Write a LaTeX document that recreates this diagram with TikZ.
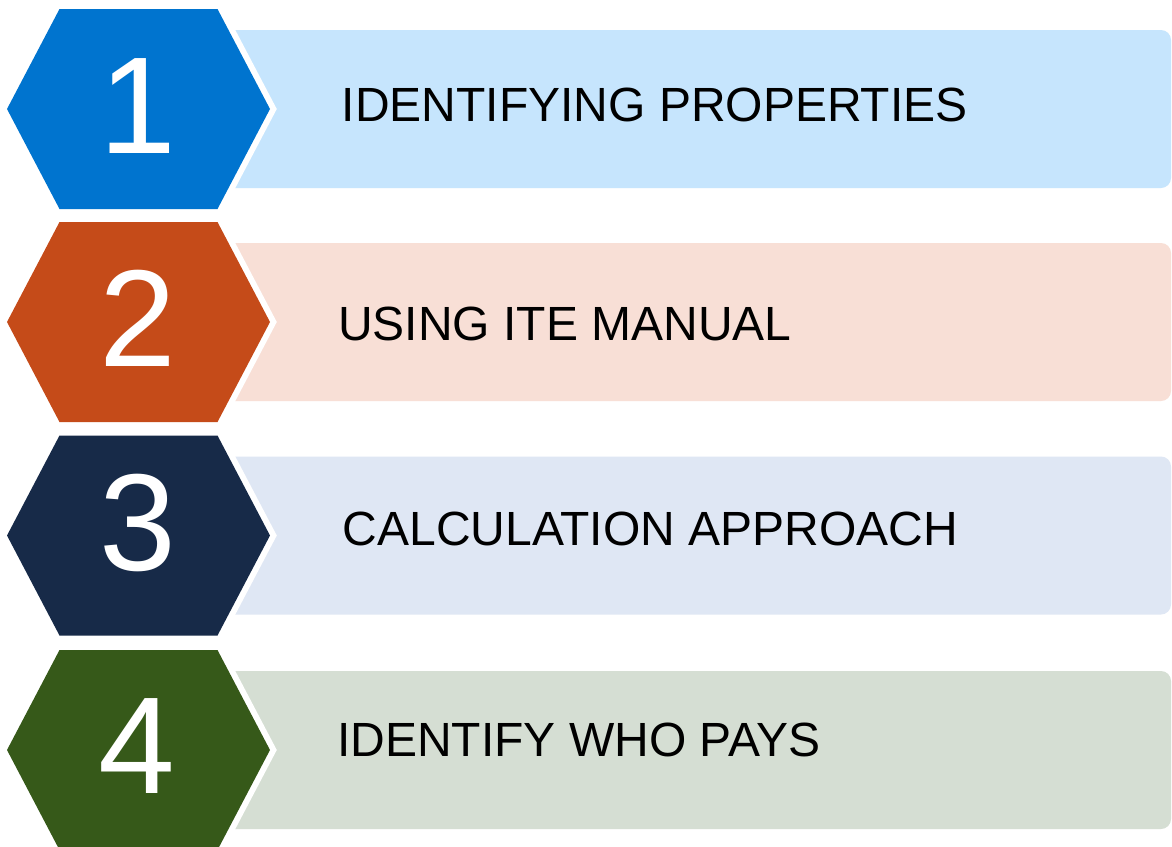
\documentclass[tikz,border=0pt]{standalone}
\usepackage{fontspec}
\setmainfont{Liberation Sans}
\definecolor{hexA}{RGB}{0,116,207}
\definecolor{barA}{RGB}{198,229,253}
\definecolor{hexB}{RGB}{197,75,25}
\definecolor{barB}{RGB}{248,223,214}
\definecolor{hexC}{RGB}{23,42,72}
\definecolor{barC}{RGB}{223,231,244}
\definecolor{hexD}{RGB}{54,89,25}
\definecolor{barD}{RGB}{213,222,211}
\tikzset{
  stepnum/.style={anchor=base, inner sep=0pt, text=white, font=\fontsize{138}{150}\selectfont},
  steptext/.style={anchor=base west, inner sep=0pt, text=black, font=\fontsize{48}{58}\selectfont},
  hexgap/.style={draw=white, line width=12pt, line join=miter},
}
% one step: bar, white-rimmed hexagon; #1 centre y, #2 hexagon colour, #3 bar colour
\newcommand{\stepitem}[3]{%
  \fill[#3, rounded corners=10pt] (220,#1-79) -- (1171,#1-79) -- (1171,#1+79) -- (220,#1+79) -- cycle;
  \path[hexgap] (59.5,#1-100) -- (217.5,#1-100) -- (270,#1) -- (217.5,#1+100) -- (59.5,#1+100) -- (7,#1) -- cycle;
  \fill[#2] (59.5,#1-100) -- (217.5,#1-100) -- (270,#1) -- (217.5,#1+100) -- (59.5,#1+100) -- (7,#1) -- cycle;
}
\begin{document}
\begin{tikzpicture}[x=1pt, y=-1pt]
\useasboundingbox (0,0) rectangle (1172,846);
\fill[white] (0,0) rectangle (1172,846);
\stepitem{109}{hexA}{barA}
\stepitem{322}{hexB}{barB}
\stepitem{535.5}{hexC}{barC}
\stepitem{750}{hexD}{barD}
\node[stepnum] (n1) at (138,153) {1};
\node[stepnum] (n2) at (138,366) {2};
\node[stepnum] (n3) at (138,570) {3};
\node[stepnum] (n4) at (137,793) {4};
\node[steptext] (t1) at (341.5,121.5) {IDENTIFYING PROPERTIES};
\node[steptext] (t2) at (338,340) {USING ITE MANUAL};
\node[steptext] (t3) at (342.5,545) {CALCULATION APPROACH};
\node[steptext] (t4) at (337,756) {IDENTIFY WHO PAYS};
\end{tikzpicture}
\end{document}
